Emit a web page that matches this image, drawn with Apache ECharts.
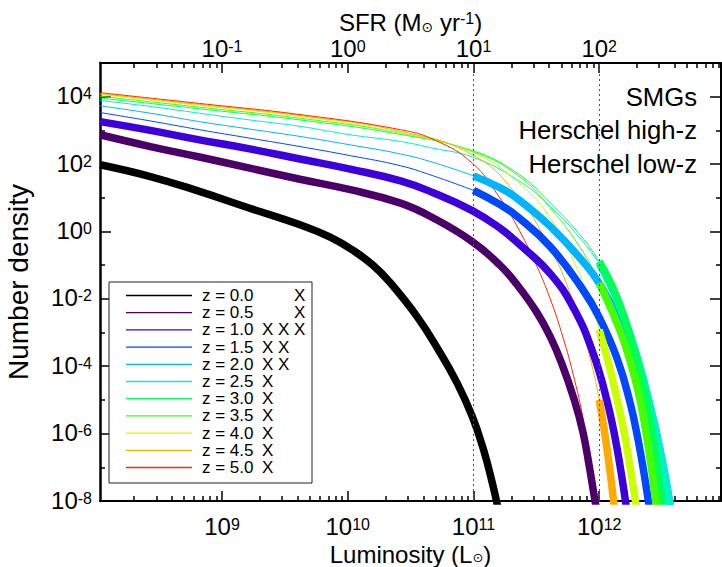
<!DOCTYPE html>
<html>
<head>
<meta charset="utf-8">
<script src="https://cdn.jsdelivr.net/npm/echarts@6/dist/echarts.min.js"></script>
<style>
  html, body { margin: 0; padding: 0; background: #ffffff; }
  #chart { width: 722px; height: 567px; }
</style>
</head>
<body>
<div id="chart"></div>
<script>
// Axis ranges (luminosity in L_sun, number density)
const lumRange = [1.07e8, 9.3e12];
const phiRange = [1e-8, 1e5];
const sfrPerLum = 1e-10;

// Tick values
const lumMajorTicks = [1e9, 1e10, 1e11, 1e12];
const sfrMajorTicks = [1e-1, 1e0, 1e1, 1e2];
const phiLabelTicks = [1e-8, 1e-6, 1e-4, 1e-2, 1e0, 1e2, 1e4];
const phiOddTicks = [1e-7, 1e-5, 1e-3, 1e-1, 1e1, 1e3];
const surveyTicks = [1e4, 1e3, 1e2];
const surveyNames = ['SMGs', 'Herschel high-z', 'Herschel low-z'];
const detectionLimits = [1e11, 1e12];

// Redshift bins
const redshiftNames = ['z = 0.0', 'z = 0.5', 'z = 1.0', 'z = 1.5', 'z = 2.0', 'z = 2.5',
                       'z = 3.0', 'z = 3.5', 'z = 4.0', 'z = 4.5', 'z = 5.0'];
const curveColors = ['#000000', '#4a0068', '#3c00dc', '#0048ff', '#00b4ff', '#00f0d0',
                     '#00ff58', '#44ff00', '#ccff00', '#ffaa00', '#ff2800'];
// log10 L from which each curve is drawn thick
const thickFromLogL = [8, 8, 8, 11, 11, 12, 12, 12, 12, 12, 13];
// survey coverage columns shown in the legend
const surveyFlags = [[0,0,1],[0,0,1],[1,1,1],[1,1,0],[1,1,0],[1,0,0],
                     [1,0,0],[1,0,0],[1,0,0],[1,0,0],[1,0,0]];

// Luminosity functions: [log10 L, log10 number density]
const lf_z00 = [[8.03,1.98],[8.43,1.63],[8.82,1.19],[9.22,0.69],[9.62,0.2],[9.86,-0.17],[10.05,-0.58],
  [10.2,-1.0],[10.34,-1.53],[10.55,-2.52],[10.72,-3.51],[10.87,-4.50],[10.99,-5.49],[11.08,-6.48],[11.15,-7.47],[11.20,-8.3]];
const lf_z05 = [[8.03,2.87],[8.43,2.52],[8.82,2.21],[9.22,1.88],[9.62,1.55],[10.02,1.24],[10.42,0.84],
  [10.68,0.40],[10.99,-0.30],[11.21,-1.0],[11.34,-1.55],[11.5,-2.38],[11.61,-3.12],[11.7,-3.9],[11.8,-4.98],
  [11.87,-5.95],[11.92,-6.95],[11.96,-7.85],[12.0,-8.7]];
const lf_z10 = [[8.03,3.26],[8.43,3.0],[8.82,2.72],[9.22,2.45],[9.62,2.15],[10.02,1.85],[10.42,1.50],
  [10.68,1.15],[10.99,0.62],[11.21,0.1],[11.34,-0.3],[11.61,-1.25],[11.8,-2.3],[11.95,-3.6],[12.06,-5.0],
  [12.14,-6.4],[12.22,-8.3]];
const lf_z15 = [[8.03,3.53],[8.43,3.28],[8.82,3.02],[9.22,2.77],[9.62,2.52],[10.02,2.25],[10.42,1.95],
  [10.68,1.65],[11.0,1.22],[11.21,0.8],[11.34,0.47],[11.61,-0.45],[11.87,-1.73],[12.0,-2.55],[12.14,-3.75],
  [12.24,-5.0],[12.31,-6.2],[12.37,-7.5],[12.41,-8.5]];
const lf_z20 = [[8.03,3.73],[8.43,3.51],[8.82,3.26],[9.22,3.04],[9.62,2.82],[10.02,2.57],[10.42,2.30],
  [10.68,2.05],[11.0,1.65],[11.21,1.3],[11.34,1.0],[11.61,0.15],[11.87,-0.89],[12.01,-1.6],[12.2,-3.0],
  [12.4,-5.2],[12.5,-6.8],[12.58,-8.5]];
const lf_z25 = [[8.03,3.89],[8.43,3.71],[8.82,3.51],[9.22,3.31],[9.62,3.12],[10.02,2.87],[10.42,2.67],
  [10.68,2.47],[10.99,2.21],[11.34,1.55],[11.61,0.75],[11.87,-0.3],[12.0,-0.95],[12.15,-2.1],[12.3,-3.7],
  [12.42,-5.4],[12.5,-6.8],[12.58,-8.5]];
const lf_z30 = [[8.03,3.96],[8.82,3.64],[9.62,3.31],[10.42,2.88],[10.99,2.40],[11.34,1.75],[11.61,0.85],
  [11.87,-0.2],[12.0,-0.89],[12.1,-1.6],[12.2,-2.55],[12.3,-3.8],[12.38,-5.1],[12.44,-6.4],[12.49,-7.7],[12.52,-8.5]];
const lf_z35 = [[8.03,4.01],[8.82,3.69],[9.62,3.36],[10.42,2.92],[10.99,2.37],[11.34,1.7],[11.61,0.7],
  [11.87,-0.6],[12.0,-1.53],[12.1,-2.35],[12.2,-3.3],[12.3,-4.6],[12.36,-5.7],[12.41,-6.9],[12.45,-8.0],[12.47,-8.6]];
const lf_z40 = [[8.03,4.06],[8.82,3.74],[9.62,3.41],[10.42,2.93],[10.99,2.35],[11.34,1.5],[11.61,0.4],
  [11.87,-1.5],[12.0,-2.92],[12.07,-3.85],[12.14,-4.95],[12.2,-6.0],[12.25,-7.1],[12.3,-8.3]];
const lf_z45 = [[8.03,4.09],[8.82,3.77],[9.62,3.44],[10.42,2.97],[10.99,2.28],[11.34,1.1],[11.61,-0.5],
  [11.75,-1.65],[11.87,-3.0],[11.95,-4.1],[12.0,-5.0],[12.06,-6.4],[12.12,-8.2]];
const lf_z50 = [[8.03,4.12],[8.82,3.8],[9.62,3.47],[10.42,3.02],[10.7,2.7],[10.99,2.03],[11.2,1.05],
  [11.34,0.2],[11.5,-1.0],[11.61,-2.0],[11.7,-3.0],[11.79,-4.2],[11.88,-5.7],[11.95,-7.3],[12.0,-8.5]];
const luminosityFunctions = [lf_z00, lf_z05, lf_z10, lf_z15, lf_z20, lf_z25,
                             lf_z30, lf_z35, lf_z40, lf_z45, lf_z50];

const FONT = 'Liberation Sans, Arial, Helvetica, sans-serif';
const BLACK = '#000000';

function minorValues(lo, hi) {
  const out = [];
  for (let e = lo; e <= hi; e++) {
    for (let m = 2; m <= 9; m++) out.push(m * Math.pow(10, e));
  }
  return out;
}
const lumMinorTicks = minorValues(8, 12);
const sfrMinorTicks = minorValues(-2, 2);

function powerLabel(v) {
  const e = Math.round(Math.log10(v));
  return '{b|10}{s|' + e + '}';
}
const powerRich = {
  b: { fontSize: 24, fontFamily: FONT, color: BLACK, lineHeight: 22, verticalAlign: 'bottom' },
  s: { fontSize: 16, fontFamily: FONT, color: BLACK, lineHeight: 5, verticalAlign: 'top' }
};

function logAxisBase(extra) {
  return Object.assign({
    type: 'log', logBase: 10, nameMoveOverlap: false,
    splitLine: { show: false }, minorTick: { show: false }, minorSplitLine: { show: false },
    axisPointer: { show: false }
  }, extra);
}

const xAxes = [
  logAxisBase({
    position: 'bottom', min: lumRange[0], max: lumRange[1],
    axisLine: { show: true, onZero: false, lineStyle: { color: BLACK, width: 2 } },
    axisTick: { show: true, inside: true, length: 10, lineStyle: { color: BLACK, width: 1.5 }, customValues: lumMajorTicks },
    axisLabel: { show: true, customValues: lumMajorTicks, formatter: powerLabel, rich: powerRich, margin: 15 },
    name: '{b|Luminosity (L}{o|⊙}{b|)}', nameLocation: 'middle', nameGap: 41,
    nameTextStyle: { verticalAlign: 'top', rich: {
      b: { fontSize: 24, fontFamily: FONT, color: BLACK, lineHeight: 22, verticalAlign: 'top' },
      o: { fontSize: 13, fontFamily: 'DejaVu Sans', color: BLACK, lineHeight: 12, verticalAlign: 'bottom' } } }
  }),
  logAxisBase({
    position: 'bottom', min: lumRange[0], max: lumRange[1],
    axisLine: { show: false, onZero: false },
    axisTick: { show: true, inside: true, length: 5, lineStyle: { color: BLACK, width: 1.5 }, customValues: lumMinorTicks },
    axisLabel: { show: false }
  }),
  logAxisBase({
    position: 'top', min: lumRange[0] * sfrPerLum, max: lumRange[1] * sfrPerLum,
    axisLine: { show: true, onZero: false, lineStyle: { color: BLACK, width: 2 } },
    axisTick: { show: true, inside: true, length: 10, lineStyle: { color: BLACK, width: 1.5 }, customValues: sfrMajorTicks },
    axisLabel: { show: true, customValues: sfrMajorTicks, formatter: powerLabel, rich: powerRich, margin: 3 },
    name: '{b|SFR (M}{o|⊙}{b| yr}{s|-1}{b|)}', nameLocation: 'middle', nameGap: 29,
    nameTextStyle: { rich: {
      b: { fontSize: 24, fontFamily: FONT, color: BLACK, lineHeight: 24, verticalAlign: 'bottom' },
      o: { fontSize: 14, fontFamily: 'DejaVu Sans', color: BLACK, lineHeight: 12, verticalAlign: 'bottom' },
      s: { fontSize: 16, fontFamily: FONT, color: BLACK, lineHeight: 6, verticalAlign: 'top' } } }
  }),
  logAxisBase({
    position: 'top', min: lumRange[0] * sfrPerLum, max: lumRange[1] * sfrPerLum,
    axisLine: { show: false, onZero: false },
    axisTick: { show: true, inside: true, length: 5, lineStyle: { color: BLACK, width: 1.5 }, customValues: sfrMinorTicks },
    axisLabel: { show: false }
  })
];

const yAxes = [
  logAxisBase({
    position: 'left', min: phiRange[0], max: phiRange[1],
    axisLine: { show: true, onZero: false, lineStyle: { color: BLACK, width: 2.5 } },
    axisTick: { show: true, inside: true, length: 11, lineStyle: { color: BLACK, width: 1.5 }, customValues: phiLabelTicks },
    axisLabel: { show: true, customValues: phiLabelTicks, formatter: powerLabel, rich: powerRich, margin: 8 },
    name: 'Number density', nameLocation: 'middle', nameGap: 68,
    nameTextStyle: { fontSize: 28, fontFamily: FONT, color: BLACK }
  }),
  logAxisBase({
    position: 'left', min: phiRange[0], max: phiRange[1],
    axisLine: { show: false, onZero: false },
    axisTick: { show: true, inside: true, length: 5, lineStyle: { color: BLACK, width: 1.5 }, customValues: phiOddTicks },
    axisLabel: { show: false }
  }),
  logAxisBase({
    position: 'right', min: phiRange[0], max: phiRange[1],
    axisLine: { show: true, onZero: false, lineStyle: { color: BLACK, width: 2 } },
    axisTick: { show: true, inside: true, length: 11, lineStyle: { color: BLACK, width: 1.5 }, customValues: phiLabelTicks },
    axisLabel: { show: true, inside: true, customValues: surveyTicks, margin: 24,
      formatter: v => surveyNames[surveyTicks.findIndex(t => Math.abs(Math.log10(t) - Math.log10(v)) < 1e-6)],
      fontSize: 25.7, fontFamily: FONT, color: BLACK }
  }),
  logAxisBase({
    position: 'right', min: phiRange[0], max: phiRange[1],
    axisLine: { show: false, onZero: false },
    axisTick: { show: true, inside: true, length: 5, lineStyle: { color: BLACK, width: 1.5 }, customValues: phiOddTicks },
    axisLabel: { show: false }
  })
];

// Build thin and thick segments of each luminosity function
const series = [];
luminosityFunctions.forEach((lf, i) => {
  const pts = lf.map(([l, p]) => [Math.pow(10, l), Math.pow(10, p)]);
  const cut = thickFromLogL[i];
  const thin = pts.filter((_, k) => lf[k][0] <= cut + 1e-9);
  const thick = pts.filter((_, k) => lf[k][0] >= cut - 1e-9);
  const common = {
    type: 'line', name: redshiftNames[i], xAxisIndex: 0, yAxisIndex: 0,
    symbol: 'none', showSymbol: false, smooth: 0.45, clip: true, silent: true,
    color: curveColors[i]
  };
  if (thin.length > 1) {
    series.push(Object.assign({}, common, { data: thin, z: 3, lineStyle: { width: 1, color: curveColors[i], cap: 'butt' } }));
  }
  if (thick.length > 1) {
    series.push(Object.assign({}, common, { data: thick, z: 4, lineStyle: { width: 7.5, color: curveColors[i], cap: 'butt' } }));
  }
});
// Survey detection limits
series.push({
  type: 'line', xAxisIndex: 0, yAxisIndex: 0, data: [], silent: true, z: 2,
  markLine: {
    silent: true, symbol: ['none', 'none'], label: { show: false },
    lineStyle: { type: [2, 3], color: '#555555', width: 1 },
    data: detectionLimits.map(v => ({ xAxis: v }))
  }
});

function legendText(name) {
  const i = redshiftNames.indexOf(name);
  const cols = surveyFlags[i].map(f => '{x|' + (f ? 'X' : '') + '}').join('');
  return '{t|' + name + '}' + cols;
}

const option = {
  animation: false,
  backgroundColor: '#ffffff',
  grid: { left: 100, right: 1, top: 63, bottom: 66, containLabel: false, outerBoundsMode: 'none' },
  xAxis: xAxes,
  yAxis: yAxes,
  legend: {
    data: redshiftNames.map(n => ({ name: n, icon: 'rect' })),
    orient: 'vertical', left: 109, top: 282,
    padding: [5, 2, 7, 17], itemGap: 0.2, itemWidth: 66, itemHeight: 1.3,
    backgroundColor: '#ffffff', borderColor: '#222222', borderWidth: 1, borderRadius: 0,
    selectedMode: false,
    formatter: legendText,
    textStyle: { color: BLACK, fontFamily: FONT, fontSize: 17, lineHeight: 17,
      rich: {
        t: { fontSize: 17, fontFamily: FONT, color: BLACK, width: 60, padding: [0, 0, 0, 5], lineHeight: 17 },
        x: { fontSize: 17, fontFamily: FONT, color: BLACK, width: 16, lineHeight: 17 }
      } }
  },
  series: series
};

const chart = echarts.init(document.getElementById('chart'), null, { renderer: 'svg' });
chart.setOption(option);
</script>
</body>
</html>
